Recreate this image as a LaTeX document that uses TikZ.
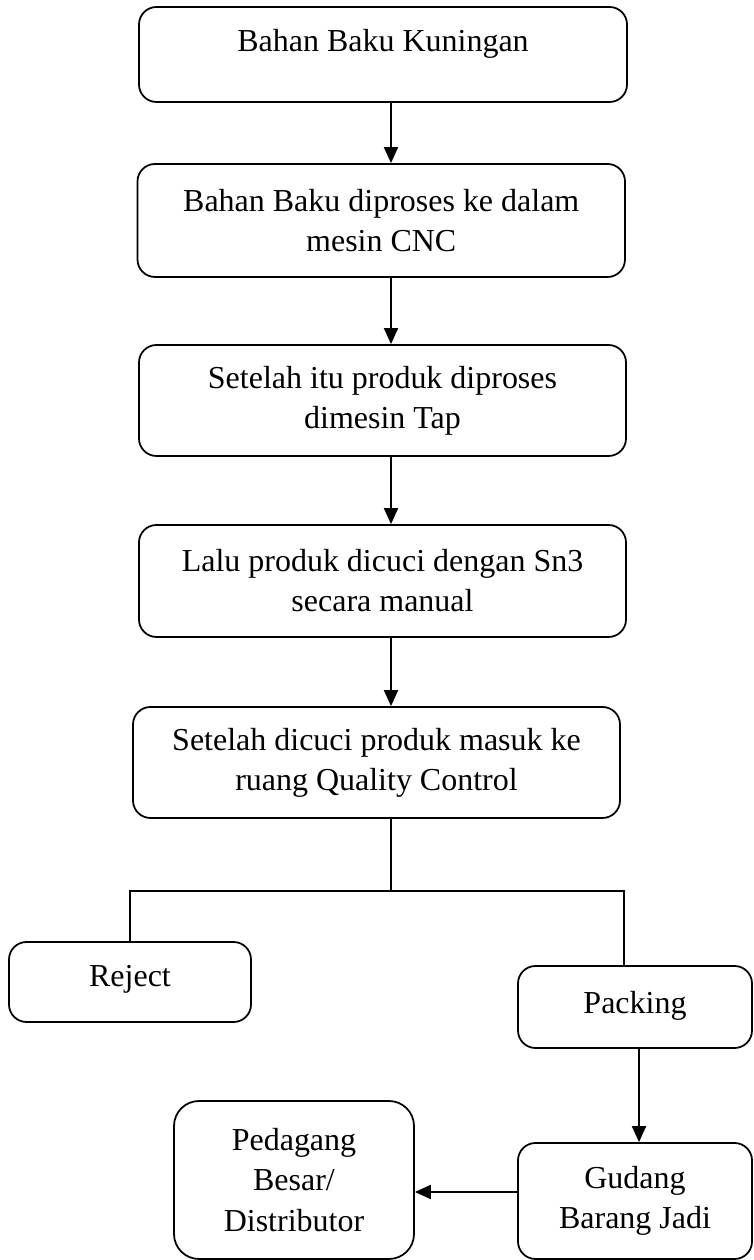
\documentclass[tikz,border=0pt]{standalone}
\usepackage{fontspec}
\setmainfont{Liberation Serif}
\usetikzlibrary{arrows.meta}

\begin{document}
\begin{tikzpicture}[
    box/.style={draw, rounded corners=0.35cm, line width=1pt, align=center,
      inner sep=0pt, font=\fontsize{18.2pt}{22.8pt}\selectfont},
    flow/.style={line width=1.1pt, -{Triangle[width=0.28cm,length=0.32cm]}},
    branchline/.style={line width=0.8pt}
  ]
  \useasboundingbox (0,0) rectangle (15.06,25.2);

  % main process column
  \node[box, minimum width=9.76cm, minimum height=1.9cm] (kuningan) at (7.66,24.11)
    {Bahan Baku Kuningan\\[-0.22cm]~};
  \node[box, minimum width=9.75cm, minimum height=2.26cm] (cnc) at (7.625,20.79)
    {Bahan Baku diproses ke dalam\\mesin CNC};
  \node[box, minimum width=9.74cm, minimum height=2.22cm] (tap) at (7.65,17.19)
    {Setelah itu produk diproses\\dimesin Tap};
  \node[box, minimum width=9.74cm, minimum height=2.24cm] (cuci) at (7.65,13.58)
    {Lalu produk dicuci dengan Sn3\\secara manual};
  \node[box, minimum width=9.74cm, minimum height=2.22cm] (qc) at (7.53,9.95)
    {Setelah dicuci produk masuk ke\\ruang Quality Control};

  % outcomes
  \node[box, minimum width=4.84cm, minimum height=1.6cm] (reject) at (2.60,5.56)
    {Reject\\[-0.55cm]~};
  \node[box, minimum width=4.68cm, minimum height=1.64cm] (packing) at (12.70,5.06)
    {Packing\\[-0.6cm]~};
  \node[box, minimum width=4.68cm, minimum height=2.32cm] (gudang) at (12.70,1.18)
    {Gudang\\Barang Jadi};
  \node[box, minimum width=4.8cm, minimum height=3.16cm, rounded corners=0.5cm] (pedagang) at (5.88,1.6)
    {Pedagang\\Besar/\\Distributor};

  \coordinate (split) at (7.82,7.38);
  \coordinate (branch) at (12.48,7.38);

  \draw[flow] (kuningan.south -| split) -- (cnc.north -| split);
  \draw[flow] (cnc.south -| split) -- (tap.north -| split);
  \draw[flow] (tap.south -| split) -- (cuci.north -| split);
  \draw[flow] (cuci.south -| split) -- (qc.north -| split);

  \draw[branchline] (qc.south -| split) -- (split);
  \draw[branchline] (reject.north) |- (branch) -- (branch |- packing.north);

  \draw[flow] ([xshift=0.08cm]packing.south) -- ([xshift=0.08cm]gudang.north);
  \draw[flow] ([yshift=0.18cm]gudang.west) -- ([yshift=-0.24cm]pedagang.east);
\end{tikzpicture}
\end{document}
